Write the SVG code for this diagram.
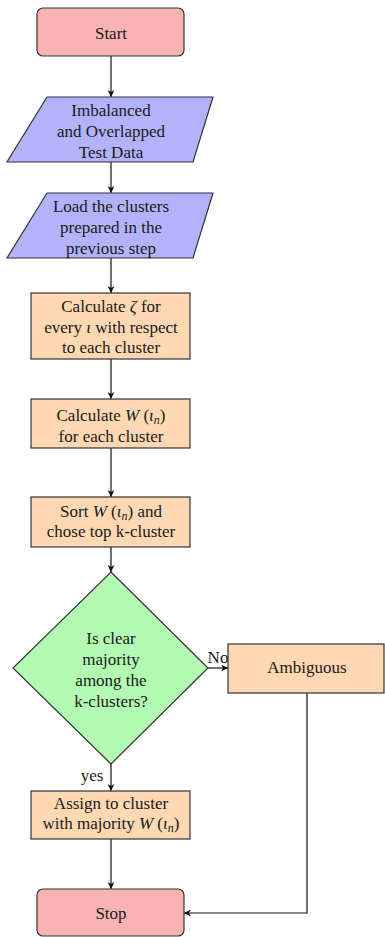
<svg xmlns="http://www.w3.org/2000/svg" width="385" height="937" viewBox="0 0 385 937">
<defs>
<style>
.t{font-family:'Liberation Serif','Times New Roman','DejaVu Serif',serif;font-size:17px;fill:#1a1a1a;text-anchor:middle}
.m{font-style:italic}
.s{stroke:#333;stroke-width:1.2}
.term{fill:#f9b3b4}
.io{fill:#b3b3fb}
.proc{fill:#fdd8b3}
.dec{fill:#b3fbb3}
.e{fill:none;stroke:#111;stroke-width:1.2;marker-end:url(#ah)}
</style>
<marker id="ah" viewBox="0 0 10 10" refX="10" refY="5" markerWidth="7" markerHeight="7" markerUnits="userSpaceOnUse" orient="auto">
<path d="M0,0 L10,5 L0,10 L3,5 Z" fill="#111"/>
</marker>
</defs>
<g id="connectors">
<path class="e" d="M111,56 V97"/>
<path class="e" d="M111,162 V193"/>
<path class="e" d="M111,258 V293"/>
<path class="e" d="M111,359 V399"/>
<path class="e" d="M111,448 V497"/>
<path class="e" d="M111,547 V572"/>
<path class="e" d="M111,764 V791"/>
<path class="e" d="M111,839 V889"/>
<path class="e" d="M208,668 H228"/>
<path class="e" d="M307,693 V913 H184"/>
<text class="t" x="218" y="663">No</text>
<text class="t" x="92" y="781">yes</text>
</g>
<g id="start">
<rect class="term s" x="37" y="8" width="147" height="48" rx="6"/>
<text class="t" x="111" y="38.5">Start</text>
</g>
<g id="data">
<polygon class="io s" points="47,97 213,97 193,162 7,162"/>
<text class="t" x="111" y="115.5">Imbalanced</text>
<text class="t" x="111" y="136.5">and Overlapped</text>
<text class="t" x="111" y="157.5">Test Data</text>
</g>
<g id="load">
<polygon class="io s" points="47,193 213,193 193,258 7,258"/>
<text class="t" x="111" y="211.5">Load the clusters</text>
<text class="t" x="111" y="233">prepared in the</text>
<text class="t" x="111" y="253.5">previous step</text>
</g>
<g id="calczeta">
<rect class="proc s" x="31" y="293" width="159" height="66"/>
<text class="t" x="111" y="311.5">Calculate <tspan class="m">ζ</tspan> for</text>
<text class="t" x="111" y="332.5">every <tspan class="m">ι</tspan> with respect</text>
<text class="t" x="111" y="352.5">to each cluster</text>
</g>
<g id="calcw">
<rect class="proc s" x="31" y="399" width="159" height="49"/>
<text class="t" x="111" y="420.5">Calculate <tspan class="m">W</tspan> (<tspan class="m">ι</tspan><tspan class="m" font-size="12" dy="3">n</tspan><tspan dy="-3">)</tspan></text>
<text class="t" x="111" y="441.5">for each cluster</text>
</g>
<g id="sort">
<rect class="proc s" x="31" y="497" width="159" height="50"/>
<text class="t" x="111" y="516.5">Sort <tspan class="m">W</tspan> (<tspan class="m">ι</tspan><tspan class="m" font-size="12" dy="3">n</tspan><tspan dy="-3">)</tspan> and</text>
<text class="t" x="111" y="536.5">chose top k-cluster</text>
</g>
<g id="decision">
<polygon class="dec s" points="111,572 208,668 111,764 13,668"/>
<text class="t" x="111" y="643.5">Is clear</text>
<text class="t" x="111" y="664.5">majority</text>
<text class="t" x="111" y="685.5">among the</text>
<text class="t" x="111" y="706.5">k-clusters?</text>
</g>
<g id="ambiguous">
<rect class="proc s" x="228" y="644" width="156" height="49"/>
<text class="t" x="307" y="672.5">Ambiguous</text>
</g>
<g id="assign">
<rect class="proc s" x="31" y="791" width="159" height="48"/>
<text class="t" x="111" y="808.5">Assign to cluster</text>
<text class="t" x="111" y="828.5">with majority <tspan class="m">W</tspan> (<tspan class="m">ι</tspan><tspan class="m" font-size="12" dy="3">n</tspan><tspan dy="-3">)</tspan></text>
</g>
<g id="stop">
<rect class="term s" x="37" y="889" width="147" height="47" rx="6"/>
<text class="t" x="111" y="918.5">Stop</text>
</g>
</svg>
